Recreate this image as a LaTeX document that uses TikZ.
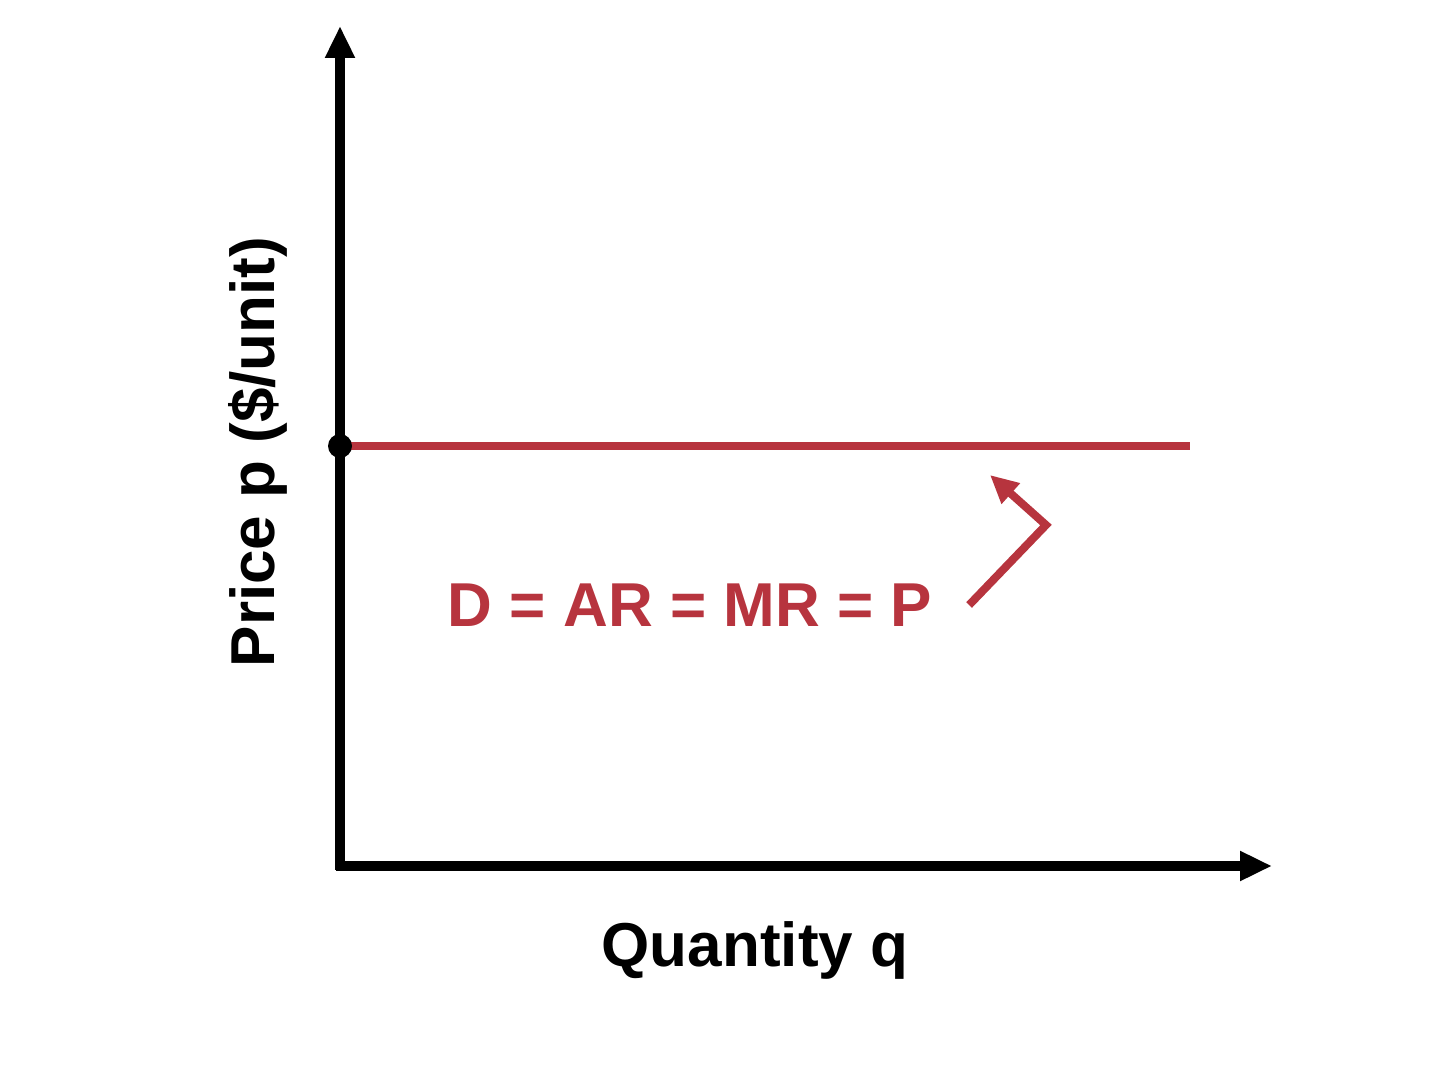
\documentclass[tikz,border=0pt]{standalone}
\usepackage{fontspec}
\setmainfont{Liberation Sans}
\usetikzlibrary{arrows.meta}
\definecolor{demandred}{RGB}{183,52,62}
\tikzset{
  axis/.style={line width=5pt,-{Triangle[length=16pt,width=14pt]}},
  axislabel/.style={font=\fontsize{31}{36}\selectfont\bfseries},
}
\begin{document}
\begin{tikzpicture}[x=0.5pt,y=0.5pt,yscale=-1,xscale=1]
\useasboundingbox (0,0) rectangle (1440,1080);
%Axes
\coordinate (origin) at (340,868);
\coordinate (ytop) at (340,26);
\coordinate (xend) at (1272,866);
\draw [axis] (340,870) -- (ytop);
\draw [axis] (336,866) -- (xend);
%Demand line
\coordinate (pstart) at (340,446);
\coordinate (pend) at (1190,446);
\draw [color=demandred, line width=4pt] (pstart) -- (pend);
\fill (pstart) circle (12);
%Labels
\node [axislabel, color=demandred] (dlabel) at (690,605) {D = AR = MR = P};
\node [axislabel] (qlabel) at (755,950) {Quantity q};
\node [axislabel, rotate=90] (plabel) at (258,452) {Price p (\$/unit)};
%Pointer
\coordinate (bend) at (1046,525);
\coordinate (tip) at (990,475);
\draw [color=demandred, line width=4pt, -{Triangle[length=14pt,width=13pt]}]
  ([xshift=15pt]dlabel.east) -- (bend) -- (tip);
\end{tikzpicture}
\end{document}
